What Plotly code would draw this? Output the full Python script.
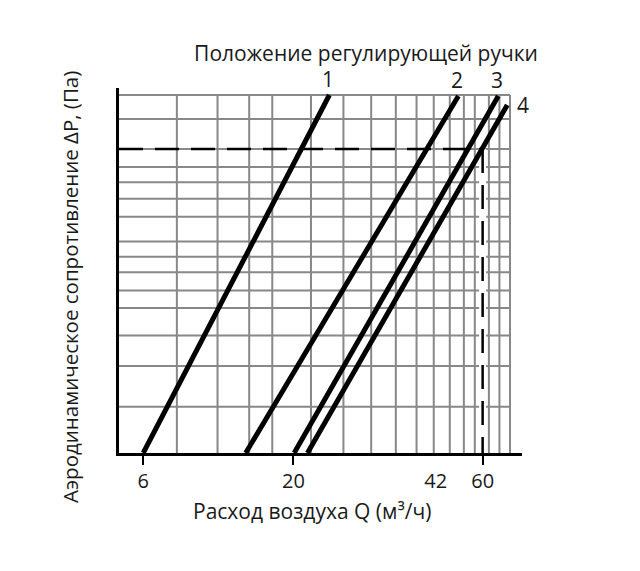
import plotly.graph_objects as go

# Номограмма: шкалы условные (0..100 по ширине и высоте сетки)
grid_x = [14.8, 25.2, 33.3, 39.2, 49.1, 57.4, 64.5, 70.8, 76.1, 80.5, 84.6, 88.2, 91.0, 94.6, 97.3, 100]
grid_y = [12.9, 24.3, 32.8, 40.5, 45.4, 50.5, 54.8, 59.1, 66.0, 71.0, 75.6, 79.9, 84.9, 93.3, 100]

# Положения регулирующей ручки 1..4: начало и конец прямых
positions = ['1', '2', '3', '4']
start_x = [6.2, 32.4, 44.8, 48.2]
start_y = [0, 0, 0, 0]
end_x = [53.8, 86.8, 97.0, 99.3]
end_y = [100, 99.7, 99.7, 97.2]

# Подписи оси Q
q_labels = ['6', '20', '42', '60']
q_pos = [6.2, 44.6, 81.0, 93.0]
q_ticks = [6.2, 44.6, 93.0]

# Рабочая точка (штриховые линии)
work_x = 93.0
work_y = 84.9

FONT = 'Open Sans'
TXT = '#1a1a1a'
SIZE = 21

fig = go.Figure()

# сетка
gx, gy = [], []
for v in grid_x:
    gx += [v, v, None]
    gy += [0, 100, None]
for h in grid_y:
    gx += [0, 100, None]
    gy += [h, h, None]
fig.add_trace(go.Scatter(x=gx, y=gy, mode='lines',
                         line=dict(color='#888888', width=2), hoverinfo='skip'))

# штриховые линии
fig.add_trace(go.Scatter(x=[work_x, work_x], y=[work_y, 0], mode='lines',
                         line=dict(color='white', width=7), hoverinfo='skip'))
fig.add_trace(go.Scatter(x=[0, work_x], y=[work_y, work_y], mode='lines',
                         line=dict(color='black', width=2.5, dash='24px,12px')))
fig.add_trace(go.Scatter(x=[work_x, work_x], y=[work_y, 0], mode='lines',
                         line=dict(color='black', width=2.5, dash='24px,12px')))

# характеристики
for i, p in enumerate(positions):
    fig.add_trace(go.Scatter(x=[start_x[i], end_x[i]], y=[start_y[i], end_y[i]],
                             mode='lines', name=p,
                             line=dict(color='black', width=5)))
    if p == '4':
        fig.add_annotation(x=end_x[i], y=end_y[i], text=p, showarrow=False,
                           xshift=16, yshift=0,
                           font=dict(family=FONT, size=SIZE, color=TXT))
    else:
        fig.add_annotation(x=end_x[i], y=end_y[i], text=p, showarrow=False,
                           xshift=-1, yshift=16,
                           font=dict(family=FONT, size=SIZE, color=TXT))

fig.add_annotation(xref='paper', yref='paper', x=0.479, y=-0.158,
                   text='Расход воздуха Q (м³/ч)', showarrow=False,
                   xanchor='center', yanchor='middle',
                   font=dict(family=FONT, size=SIZE, color=TXT))
fig.add_annotation(xref='paper', yref='paper', x=-0.1216, y=0.4548,
                   text='Аэродинамическое сопротивление ΔP, (Па)', showarrow=False,
                   textangle=-90, xanchor='center', yanchor='middle',
                   font=dict(family=FONT, size=20.5, color=TXT))

# страница открывается с отступом 8px, поэтому холст 632x563
fig.update_layout(
    width=632,
    height=563,
    margin=dict(l=111, r=118, t=80, b=118),
    plot_bgcolor='white',
    paper_bgcolor='white',
    showlegend=False,
    title=dict(text='Положение регулирующей ручки', x=0.5665, xref='container',
               y=0.9183, yref='container', xanchor='center', yanchor='middle',
               font=dict(family=FONT, size=SIZE, color=TXT)),
    xaxis=dict(range=[0, 103.07], showgrid=False, zeroline=False,
               showline=True, linecolor='black', linewidth=2.5,
               tickmode='array', tickvals=q_pos, ticktext=q_labels,
               ticks='', ticklabelstandoff=8,
               tickfont=dict(family=FONT, size=20, color=TXT),
               minor=dict(tickmode='array', tickvals=q_ticks, ticks='outside',
                          ticklen=9, tickwidth=2, tickcolor='black', showgrid=False)),
    yaxis=dict(range=[0, 101.96], showgrid=False, zeroline=False,
               showline=True, linecolor='black', linewidth=2.5,
               showticklabels=False, ticks=''),
)

fig.write_html('out.html')
